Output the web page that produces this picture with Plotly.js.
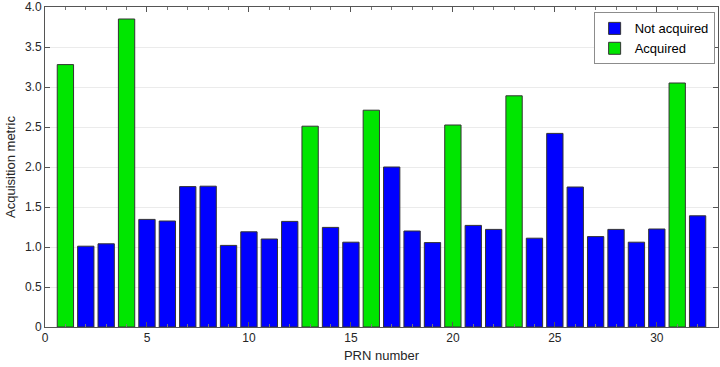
<!DOCTYPE html>
<html>
<head>
<meta charset="utf-8">
<script src="https://cdn.plot.ly/plotly-3.0.1.min.js"></script>
<style>html,body{margin:0;padding:0;background:#fff;}#chart{width:720px;height:367px;}</style>
</head>
<body>
<div id="chart"></div>
<script>
var prn = [1,2,3,4,5,6,7,8,9,10,11,12,13,14,15,16,17,18,19,20,21,22,23,24,25,26,27,28,29,30,31,32];
var metric = [3.28,1.01,1.04,3.85,1.345,1.325,1.755,1.76,1.02,1.19,1.10,1.32,2.51,1.245,1.06,2.71,2.00,1.20,1.055,2.525,1.27,1.22,2.89,1.11,2.42,1.75,1.13,1.22,1.06,1.225,3.05,1.39];
var acquired = [1,0,0,1,0,0,0,0,0,0,0,0,1,0,0,1,0,0,0,1,0,0,1,0,0,0,0,0,0,0,1,0];
var yTickVals = [0,0.5,1,1.5,2,2.5,3,3.5,4];
var yTickText = ["0","0.5","1.0","1.5","2.0","2.5","3.0","3.5","4.0"];
var xTickVals = [0,5,10,15,20,25,30];

var nx = [], ny = [], ax = [], ay = [];
for (var i = 0; i < prn.length; i++) {
  if (acquired[i]) { ax.push(prn[i]); ay.push(metric[i]); }
  else { nx.push(prn[i]); ny.push(metric[i]); }
}
var font = {family: "Liberation Sans, Arial, sans-serif", size: 12, color: "#262626"};
var traces = [
  {type: "bar", name: "Not acquired", x: nx, y: ny, width: 0.8,
   marker: {color: "#0000ff", line: {color: "#333333", width: 1}}},
  {type: "bar", name: "Acquired", x: ax, y: ay, width: 0.8,
   marker: {color: "#00e600", line: {color: "#333333", width: 1}}}
];
var layout = {
  width: 720, height: 367,
  margin: {l: 45, r: 2, t: 7, b: 40},
  paper_bgcolor: "#fff", plot_bgcolor: "#fff",
  barmode: "overlay",
  font: font,
  showlegend: true,
  legend: {x: 0.995, y: 0.983, xanchor: "right", yanchor: "top",
    bordercolor: "#8c8c8c", borderwidth: 1, bgcolor: "#fff",
    font: {family: "Liberation Sans, Arial, sans-serif", size: 13, color: "#000"},
    tracegroupgap: 0, itemwidth: 30},
  xaxis: {range: [0, 33], tickvals: xTickVals, ticks: "inside", ticklen: 5,
    tickcolor: "#555", showline: true, linecolor: "#555", linewidth: 1, mirror: "allticks",
    showgrid: false, zeroline: false,
    minor: {dtick: 1, ticks: "inside", ticklen: 3, tickcolor: "#777", showgrid: false},
    title: {text: "PRN number", font: {size: 13, color: "#262626"}, standoff: 6},
    tickfont: {size: 12, color: "#262626"}},
  yaxis: {range: [0, 4], tickvals: yTickVals, ticktext: yTickText, ticks: "inside", ticklen: 5,
    tickcolor: "#555", showline: true, linecolor: "#555", linewidth: 1, mirror: "allticks",
    showgrid: true, gridcolor: "#ebebeb", zeroline: false,
    title: {text: "Acquisition metric", font: {size: 13, color: "#262626"}, standoff: 6},
    tickfont: {size: 12, color: "#262626"}}
};
Plotly.newPlot("chart", traces, layout, {displayModeBar: false, staticPlot: true});
</script>
</body>
</html>
